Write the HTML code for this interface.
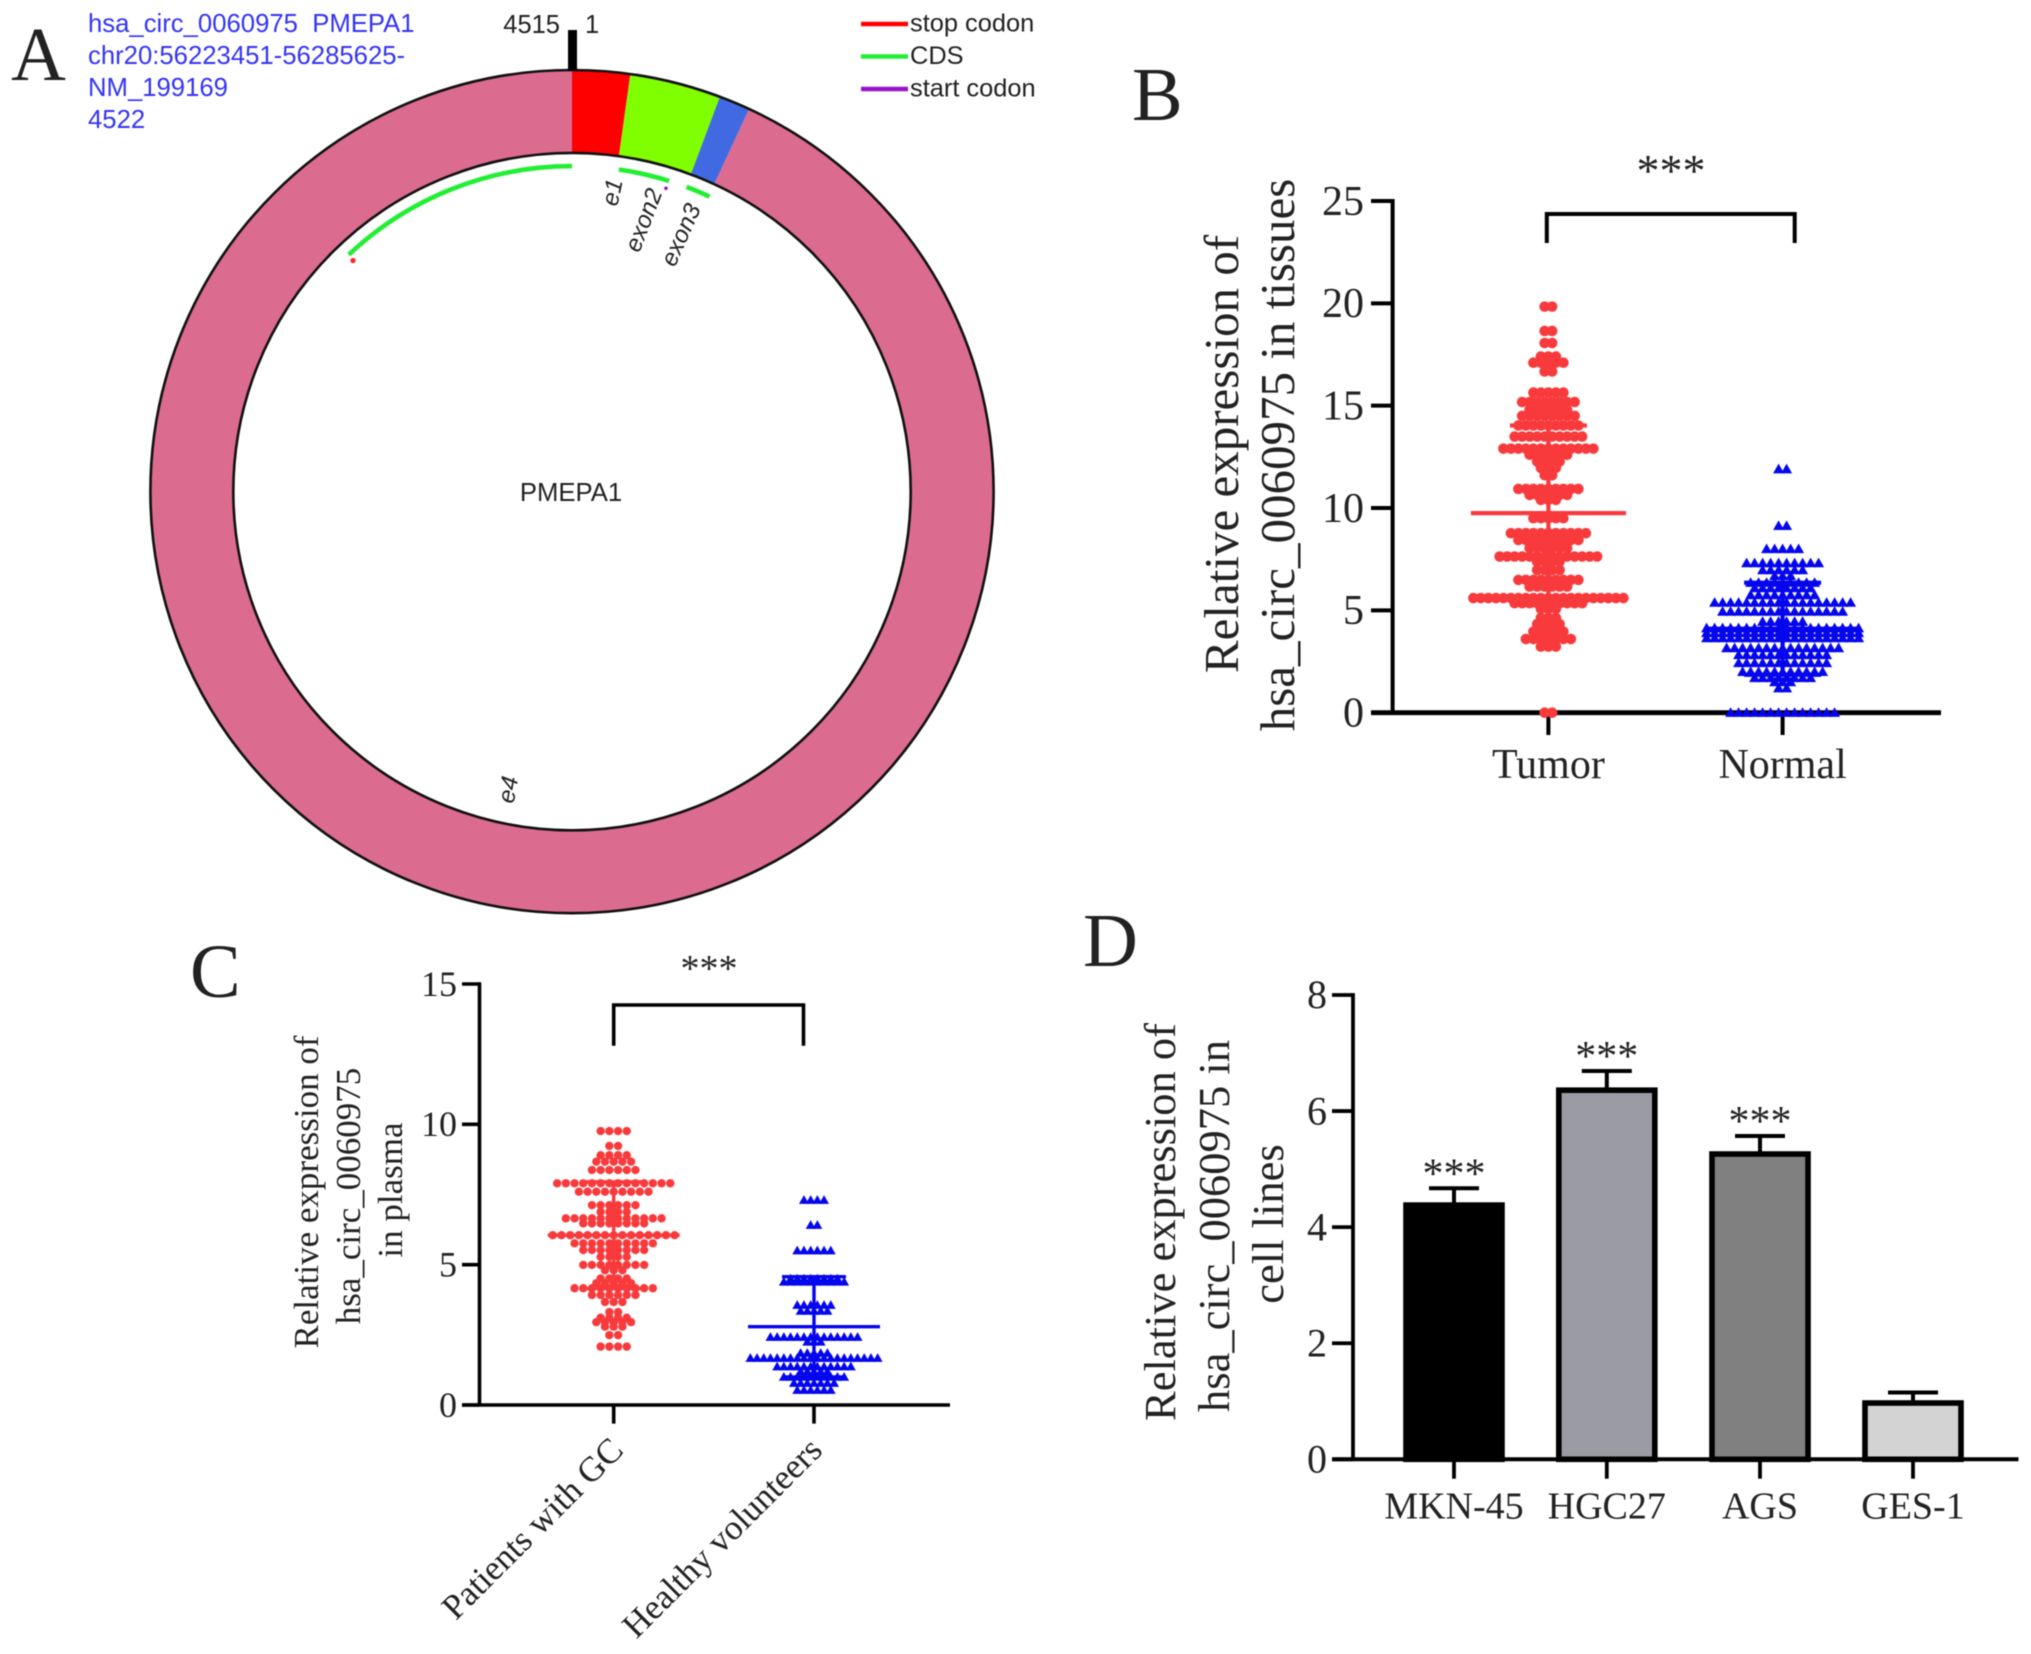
<!DOCTYPE html>
<html lang="en">
<head>
<meta charset="utf-8">
<title>hsa_circ_0060975 expression figure</title>
<style>
html,body{margin:0;padding:0;background:#fff;}
svg{display:block;filter:blur(0.55px);}
text{font-family:"Liberation Serif",serif;fill:#222;}
.sans,.sans text{font-family:"Liberation Sans",sans-serif;}
</style>
</head>
<body>
<svg id="figure" xmlns="http://www.w3.org/2000/svg" width="2031" height="1654" viewBox="0 0 2031 1654">
<rect x="0" y="0" width="2031" height="1654" fill="#fff"/>

<!-- Panel letters -->
<text x="11" y="80" font-size="76" fill="#111">A</text>
<text x="1132" y="120" font-size="76" fill="#111">B</text>
<text x="190" y="997" font-size="76" fill="#111">C</text>
<text x="1083" y="966" font-size="76" fill="#111">D</text>

<!-- Panel A static text -->
<g id="panelA">
  <g class="sans" font-size="25.7">
    <text x="88" y="32" style="fill:#3434f4;font-family:'Liberation Sans',sans-serif" xml:space="preserve">hsa_circ_0060975  PMEPA1</text>
    <text x="88" y="64" style="fill:#3434f4;font-family:'Liberation Sans',sans-serif">chr20:56223451-56285625-</text>
    <text x="88" y="96" style="fill:#3434f4;font-family:'Liberation Sans',sans-serif">NM_199169</text>
    <text x="88" y="128" style="fill:#3434f4;font-family:'Liberation Sans',sans-serif">4522</text>
  </g>
</g>

<!-- Panel B titles -->
<g font-size="49">
  <text transform="translate(1238,454) rotate(-90)" text-anchor="middle">Relative expression of</text>
  <text transform="translate(1294,455) rotate(-90)" text-anchor="middle">hsa_circ_0060975 in tissues</text>
</g>
<!-- Panel C titles -->
<g font-size="35">
  <text transform="translate(318,1192) rotate(-90)" text-anchor="middle">Relative expression of</text>
  <text transform="translate(360,1196) rotate(-90)" text-anchor="middle">hsa_circ_0060975</text>
  <text transform="translate(402,1190) rotate(-90)" text-anchor="middle">in plasma</text>
</g>
<!-- Panel D titles -->
<g font-size="44.5">
  <text transform="translate(1175,1222) rotate(-90)" text-anchor="middle">Relative expression of</text>
  <text transform="translate(1229,1226) rotate(-90)" text-anchor="middle">hsa_circ_0060975 in</text>
  <text transform="translate(1283,1224) rotate(-90)" text-anchor="middle">cell lines</text>
</g>
</svg>

<script>
// ---------- Panel A data (positions along the 4522 nt circle, legend, exons) ----------
var ringSegmentEnds = [100, 258, 312, 4522];
var ringSegmentColors = ['#ff0000', '#80ff00', '#4169e1', '#dc6b90'];
var ringSegmentNames = ['stop-codon-segment', 'cds-segment', 'start-region-segment', 'remaining-segment'];
var exonStartNt = [3978, 104, 259];
var exonEndNt = [4522, 218, 314];
var exonLabels = ['e4', 'e1', 'exon2', 'exon3'];
var legendLabels = ['stop codon', 'CDS', 'start codon'];
var legendColors = ['#ff0000', '#22ee33', '#9a10cc'];

// ---------- Panel B data ----------
var tissueCategories = ['Tumor', 'Normal'];
var tissueTicks = [0, 5, 10, 15, 20, 25];
var tumorLevels = [19.84,18.65,18.06,17.4,17.1,16.67,15.64,15.18,14.8,14.5,14.03,13.49,12.9,12.6,12.27,11.96,11.6,10.93,10.64,10.4,9.5,8.77,8.44,8.04,7.63,7.38,6.97,6.49,6.16,5.6,5.35,5.07,4.63,4.33,3.96,3.6,3.23,0];
var tumorCounts = [2,2,2,3,5,2,5,8,6,8,9,10,13,6,4,3,2,9,6,3,5,11,9,6,14,4,4,9,6,21,10,3,3,4,5,7,3,2];
var normalLevels = [11.9,9.13,8.0,7.31,6.97,6.68,6.35,6.09,5.75,5.38,4.94,4.45,4.13,3.9,3.65,3.16,2.82,2.43,2.0,1.7,1.5,1.2,0];
var normalCounts = [2,2,5,10,6,3,9,8,9,18,16,6,20,20,20,15,12,12,11,8,3,2,14];
var tissueMeans = [9.75, 4.1];
var tissueUpper = [14.03, 6.35];
var tissueLower = [5.55, 1.85];

// ---------- Panel C data ----------
var plasmaCategories = ['Patients with GC', 'Healthy volunteers'];
var plasmaTicks = [0, 5, 10, 15];
var patientLevels = [9.76,9.23,8.9,8.67,8.37,7.9,7.6,7.12,6.88,6.65,6.47,6.05,5.76,5.52,5.28,4.99,4.8,4.51,4.34,4.16,3.92,3.67,3.31,3.11,2.95,2.79,2.49,2.08];
var patientCounts = [4,2,4,5,6,14,9,6,4,12,8,15,10,8,4,8,3,4,5,10,6,3,2,4,5,3,2,4];
var volunteerLevels = [7.3,6.41,5.5,4.5,4.39,3.56,3.35,2.42,2.25,1.85,1.67,1.37,1.19,1.0,0.78,0.53];
var volunteerCounts = [4,2,6,8,10,6,5,14,3,5,20,12,5,10,7,6];
var plasmaMeans = [6.05, 2.79];
var plasmaUpper = [7.95, 4.57];
var plasmaLower = [4.15, 1.0];

// ---------- Panel D data ----------
var cellCategories = ['MKN-45', 'HGC27', 'AGS', 'GES-1'];
var cellTicks = [0, 2, 4, 6, 8];
var cellValues = [4.38, 6.36, 5.26, 0.97];
var cellErrorTops = [4.67, 6.69, 5.57, 1.15];
var cellFills = ['#000000', '#9b9ba3', '#808080', '#d3d3d3'];
var cellStars = ['***', '***', '***', ''];

// ---------- Helpers ----------
var NS = 'http://www.w3.org/2000/svg';
var fig = document.getElementById('figure');
function mk(tag, attrs, parent) {
  var el = document.createElementNS(NS, tag);
  for (var k in attrs) el.setAttribute(k, attrs[k]);
  (parent || fig).appendChild(el);
  return el;
}
function linearScale(d0, d1, r0, r1) {
  return function (v) { return r0 + (v - d0) * (r1 - r0) / (d1 - d0); };
}
function line(x1, y1, x2, y2, color, width, name) {
  var el = mk('line', {x1: x1, y1: y1, x2: x2, y2: y2, stroke: color, 'stroke-width': width});
  
  
  return el;
}
function label(x, y, str, size, anchor, name, transform) {
  var el = mk('text', {x: x, y: y, 'font-size': size, 'text-anchor': anchor});
  if (transform) { el.removeAttribute('x'); el.removeAttribute('y'); el.setAttribute('transform', transform); }
  el.textContent = str;
  
  
  return el;
}
function drawAxes(cfg) {
  cfg.ticks.forEach(function (t) {
    line(cfg.tickLeft, cfg.y(t), cfg.axisX, cfg.y(t), '#000', cfg.width, cfg.name + '-y-tick');
    label(cfg.labelRight, cfg.y(t) + cfg.fontSize * 0.33, String(t), cfg.fontSize, 'end', cfg.name + '-y-tick-label');
  });
  line(cfg.axisX, cfg.y(cfg.ticks[cfg.ticks.length - 1]) - cfg.width / 2, cfg.axisX, cfg.y(0), '#000', cfg.width, cfg.name + '-y-axis');
  line(cfg.tickLeft, cfg.y(0), cfg.axisRight, cfg.y(0), '#000', cfg.baseWidth, cfg.name + '-x-axis');
  cfg.xs.forEach(function (x) {
    line(x, cfg.y(0), x, cfg.tickBottom, '#000', cfg.width, cfg.name + '-x-tick');
  });
}
function drawBracket(left, right, top, bottom, width, name) {
  var el = mk('path', {d: 'M' + left + ' ' + bottom + 'V' + top + 'H' + right + 'V' + bottom, fill: 'none', stroke: '#000', 'stroke-width': width});
  
  
}
function drawSwarm(levels, counts, cx, y, spacing, size, color, shape, name) {
  levels.forEach(function (v, r) {
    var n = counts[r];
    for (var i = 0; i < n; i++) {
      var px = cx + (i - (n - 1) / 2) * spacing;
      var py = y(v);
      var el;
      if (shape === 'circle') {
        el = mk('circle', {cx: px, cy: py, r: size / 2, fill: color});
      } else {
        el = mk('polygon', {points: px + ',' + (py - size * 0.55) + ' ' + (px + size * 0.55) + ',' + (py + size * 0.42) + ' ' + (px - size * 0.55) + ',' + (py + size * 0.42), fill: color});
      }
      
      
    }
  });
}
function drawErrorBars(cx, mean, upper, lower, y, meanHalf, capHalf, color, width, name) {
  line(cx, y(lower), cx, y(upper), color, width, name + '-error-bar');
  line(cx - capHalf, y(upper), cx + capHalf, y(upper), color, width, name + '-upper-cap');
  line(cx - capHalf, y(lower), cx + capHalf, y(lower), color, width, name + '-lower-cap');
  line(cx - meanHalf, y(mean), cx + meanHalf, y(mean), color, width, name + '-mean-line');
}

// ---------- Panel A ----------
(function () {
  var cx = 572, cy = 491.6, rOut = 421.6, rIn = 338.7, rExon = 325.5;
  var total = 4522;
  function pt(nt, r) {
    var a = nt / total * 2 * Math.PI;
    return [cx + r * Math.sin(a), cy - r * Math.cos(a)];
  }
  function sector(a, b) {
    var large = (b - a) / total > 0.5 ? 1 : 0;
    var p1 = pt(a, rOut), p2 = pt(b, rOut), p3 = pt(b, rIn), p4 = pt(a, rIn);
    return 'M' + p1 + 'A' + rOut + ' ' + rOut + ' 0 ' + large + ' 1 ' + p2 + 'L' + p3 + 'A' + rIn + ' ' + rIn + ' 0 ' + large + ' 0 ' + p4 + 'Z';
  }
  var prev = 0;
  ringSegmentEnds.forEach(function (end, i) {
    var el = mk('path', {d: sector(prev, end), fill: ringSegmentColors[i]});
    
    
    prev = end;
  });
  var outer = mk('circle', {cx: cx, cy: cy, r: rOut, fill: 'none', stroke: '#111', 'stroke-width': 2.6});
  
  
  var inner = mk('circle', {cx: cx, cy: cy, r: rIn, fill: 'none', stroke: '#111', 'stroke-width': 2.6});
  
  

  exonStartNt.forEach(function (s, i) {
    var p1 = pt(s, rExon), p2 = pt(exonEndNt[i], rExon);
    var el = mk('path', {d: 'M' + p1 + 'A' + rExon + ' ' + rExon + ' 0 0 1 ' + p2, fill: 'none', stroke: '#22ee33', 'stroke-width': 4.6});
    
    
  });

  var redDot = mk('circle', {cx: 353, cy: 260.5, r: 2.6, fill: '#ff2222'});
  
  
  var purpleDot = mk('circle', {cx: 666, cy: 188.3, r: 1.8, fill: '#9a10cc'});
  
  

  var tick = mk('rect', {x: 568, y: 30, width: 9, height: 41, fill: '#000'});
  
  

  function sans(x, y, str, size, anchor, name, transform, italic) {
    var el = label(x, y, str, size, anchor, name, transform);
    el.style.fontFamily = '"Liberation Sans",sans-serif';
    if (italic) el.style.fontStyle = 'italic';
    return el;
  }
  sans(560, 33, '4515', 25.5, 'end', 'position-label-end');
  sans(585, 33, '1', 25.5, 'start', 'position-label-start');
  sans(571, 501, 'PMEPA1', 25.7, 'middle', 'gene-name');
  var exonLabelTransforms = ['translate(516,791) rotate(-80)', 'translate(620,194) rotate(-78)', 'translate(651,223) rotate(-69)', 'translate(688,238) rotate(-66)'];
  exonLabels.forEach(function (t, i) {
    sans(0, 0, t, 24, 'middle', 'exon-label', exonLabelTransforms[i], true);
  });
  var legendY = linearScale(0, 2, 24, 89);
  legendLabels.forEach(function (t, i) {
    line(861, legendY(i), 908, legendY(i), legendColors[i], 4.4, 'legend-swatch');
    sans(910, legendY(i) + 7.5, t, 25.4, 'start', 'legend-entry');
  });
})();

// ---------- Panel B ----------
(function () {
  var y = linearScale(0, 25, 712.7, 201);
  var xs = [1548.4, 1782.6];
  drawAxes({name: 'panel-b', ticks: tissueTicks, y: y, xs: xs, axisX: 1392.6, tickLeft: 1371, axisRight: 1941, tickBottom: 735, labelRight: 1364, fontSize: 42, width: 4, baseWidth: 4.8});
  drawSwarm(tumorLevels, tumorCounts, xs[0], y, 7.5, 10.6, '#f93a3c', 'circle', 'tumor-point');
  drawSwarm(normalLevels, normalCounts, xs[1], y, 8, 10, '#0505ee', 'triangle', 'normal-point');
  var colors = ['#f93a3c', '#0505ee'];
  var names = ['tumor', 'normal'];
  tissueCategories.forEach(function (c, i) {
    drawErrorBars(xs[i], tissueMeans[i], tissueUpper[i], tissueLower[i], y, 77.5, 38.5, colors[i], 4.2, names[i]);
    label(xs[i], 778, c, 42, 'middle', names[i] + '-x-label');
  });
  drawBracket(1546.8, 1794.7, 214, 243, 4, 'panel-b-significance-bracket');
  label(1671, 186, '***', 46, 'middle', 'panel-b-significance-stars');
})();

// ---------- Panel C ----------
(function () {
  var y = linearScale(0, 15, 1405, 984);
  var xs = [613.7, 814];
  drawAxes({name: 'panel-c', ticks: plasmaTicks, y: y, xs: xs, axisX: 479.5, tickLeft: 462, axisRight: 950, tickBottom: 1423.6, labelRight: 457, fontSize: 36, width: 3.6, baseWidth: 3.6});
  drawSwarm(patientLevels, patientCounts, xs[0], y, 8.7, 8.4, '#f93a3c', 'circle', 'patient-point');
  drawSwarm(volunteerLevels, volunteerCounts, xs[1], y, 6.7, 9, '#0505ee', 'triangle', 'volunteer-point');
  var colors = ['#f93a3c', '#0505ee'];
  var names = ['patient', 'volunteer'];
  var ends = [[625, 1452], [824, 1452]];
  plasmaCategories.forEach(function (c, i) {
    drawErrorBars(xs[i], plasmaMeans[i], plasmaUpper[i], plasmaLower[i], y, 66, 32, colors[i], 3.4, names[i]);
    label(0, 0, c, 35, 'end', names[i] + '-x-label', 'translate(' + ends[i][0] + ',' + ends[i][1] + ') rotate(-45)');
  });
  drawBracket(613.7, 803.5, 1005, 1045.7, 3.6, 'panel-c-significance-bracket');
  label(709, 981, '***', 38, 'middle', 'panel-c-significance-stars');
})();

// ---------- Panel D ----------
(function () {
  var y = linearScale(0, 8, 1459.3, 995);
  var xs = [1454, 1606.8, 1760, 1913];
  var barHalf = 48;
  cellCategories.forEach(function (c, i) {
    line(xs[i], y(cellValues[i]), xs[i], y(cellErrorTops[i]), '#000', 4, c + '-error-bar');
    line(xs[i] - 25, y(cellErrorTops[i]), xs[i] + 25, y(cellErrorTops[i]), '#000', 4, c + '-error-cap');
    var bar = mk('rect', {x: xs[i] - barHalf, y: y(cellValues[i]), width: barHalf * 2, height: y(0) - y(cellValues[i]), fill: cellFills[i], stroke: '#000', 'stroke-width': 5.6});
    
    
    if (cellStars[i]) label(xs[i], y(cellErrorTops[i]) - 1, cellStars[i], 42, 'middle', c + '-significance-stars');
    label(xs[i], 1518.7, c, 38, 'middle', c + '-x-label');
  });
  drawAxes({name: 'panel-d', ticks: cellTicks, y: y, xs: xs, axisX: 1353, tickLeft: 1332, axisRight: 2018.5, tickBottom: 1478.7, labelRight: 1327, fontSize: 40, width: 3.8, baseWidth: 4});
})();
</script>
</body>
</html>
